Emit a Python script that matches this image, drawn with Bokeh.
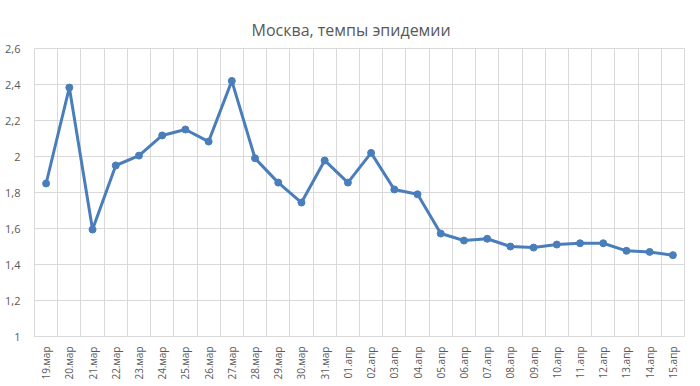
import numpy as np
from bokeh.plotting import figure
from bokeh.models import FixedTicker, ColumnDataSource, Range1d
from bokeh.embed import file_html
from bokeh.resources import INLINE

dates = ["19.мар", "20.мар", "21.мар", "22.мар", "23.мар", "24.мар", "25.мар",
         "26.мар", "27.мар", "28.мар", "29.мар", "30.мар", "31.мар", "01.апр",
         "02.апр", "03.апр", "04.апр", "05.апр", "06.апр", "07.апр", "08.апр",
         "09.апр", "10.апр", "11.апр", "12.апр", "13.апр", "14.апр", "15.апр"]
rates = [1.85, 2.383, 1.594, 1.95, 2.005, 2.117, 2.15, 2.083, 2.42, 1.99,
         1.855, 1.744, 1.978, 1.855, 2.02, 1.817, 1.79, 1.572, 1.533, 1.543,
         1.50, 1.494, 1.511, 1.518, 1.518, 1.476, 1.47, 1.452]
y_ticks = [1.0, 1.2, 1.4, 1.6, 1.8, 2.0, 2.2, 2.4, 2.6]
y_labels = ["1", "1,2", "1,4", "1,6", "1,8", "2", "2,2", "2,4", "2,6"]
title_text = "Москва, темпы эпидемии"

n = len(dates)
xs = np.arange(n) + 0.5
src = ColumnDataSource(dict(x=xs, y=rates))

FONT = "Open Sans"
GRAY = "#595959"
GRID = "#d9d9d9"
BLUE = "#4a7ebb"

p = figure(frame_width=650, frame_height=288, output_backend="svg",
           toolbar_location=None,
           x_range=Range1d(0, n), y_range=Range1d(1, 2.6),
           min_border_left=34, min_border_right=16, min_border_bottom=50,
           min_border_top=48)

p.title.text = title_text
p.title.align = "left"
p.title.text_font = FONT
p.title.text_font_size = "16px"
p.title.text_font_style = "normal"
p.title.text_color = GRAY
p.title.offset = 217
p.title.standoff = 16

p.line("x", "y", source=src, line_color=BLUE, line_width=3)
p.scatter("x", "y", source=src, size=7, fill_color=BLUE, line_color=BLUE)

# y axis
p.yaxis.ticker = FixedTicker(ticks=y_ticks)
p.yaxis.major_label_overrides = {t: l for t, l in zip(y_ticks, y_labels)}
p.yaxis.axis_line_color = None
p.yaxis.major_tick_line_color = None
p.yaxis.minor_tick_line_color = None
p.yaxis.major_label_text_font = FONT
p.yaxis.major_label_text_font_size = "11px"
p.yaxis.major_label_text_color = GRAY
p.yaxis.major_label_standoff = 8

# x axis: labels at category centers
p.xaxis.ticker = FixedTicker(ticks=list(xs))
p.xaxis.major_label_overrides = {float(x): d for x, d in zip(xs, dates)}
p.xaxis.major_label_orientation = np.pi / 2
p.xaxis.axis_line_color = GRID
p.xaxis.major_tick_line_color = None
p.xaxis.minor_tick_line_color = None
p.xaxis.major_label_text_font = FONT
p.xaxis.major_label_text_font_size = "10px"
p.xaxis.major_label_text_color = GRAY
p.xaxis.major_label_standoff = 4

# grids: vertical at category boundaries
p.xgrid.ticker = FixedTicker(ticks=list(range(n + 1)))
p.xgrid.grid_line_color = GRID
p.ygrid.ticker = FixedTicker(ticks=y_ticks)
p.ygrid.grid_line_color = GRID
p.outline_line_color = GRID

open("out.html", "w").write(file_html(p, INLINE))
